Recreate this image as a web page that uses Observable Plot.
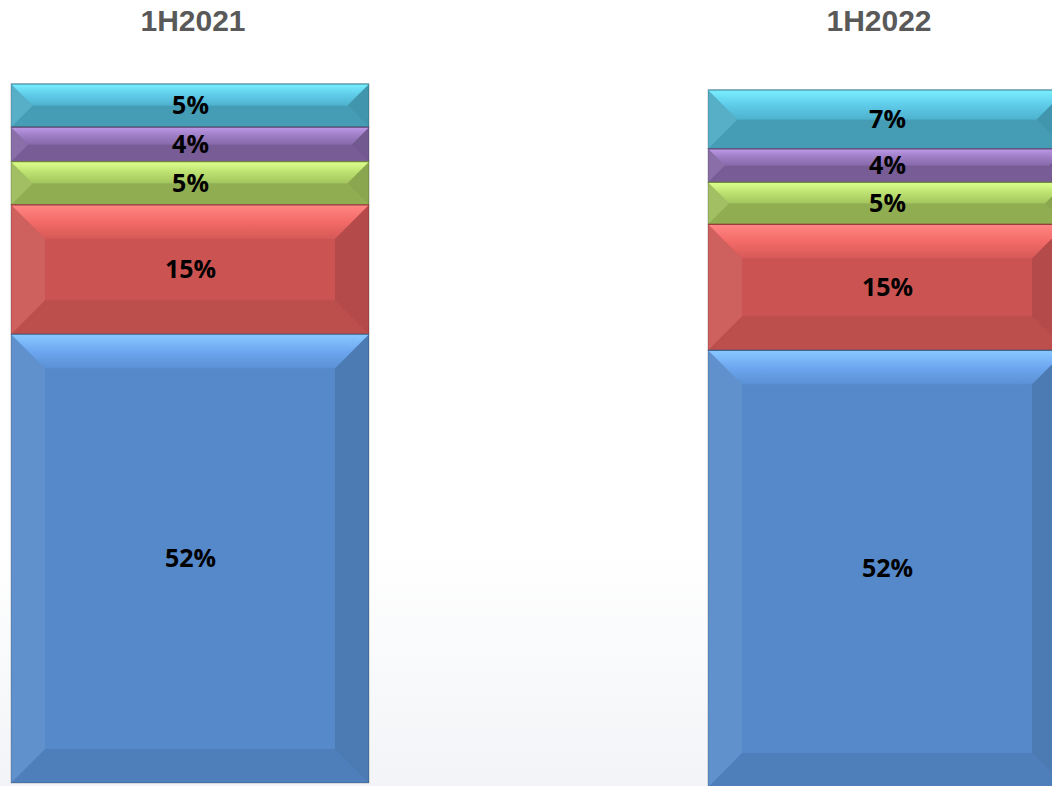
<!DOCTYPE html>
<html>
<head>
<meta charset="utf-8">
<script src="https://cdn.jsdelivr.net/npm/d3@7"></script>
<script src="https://cdn.jsdelivr.net/npm/@observablehq/plot@0.6"></script>
<style>
  html, body { margin: 0; padding: 0; }
  body {
    width: 1052px; height: 786px; overflow: hidden; position: relative;
    background: linear-gradient(to bottom, #ffffff 0%, #ffffff 70%, #f2f4f7 100%);
  }
  .title {
    position: absolute; top: 6px; width: 300px; text-align: center;
    font-family: "Liberation Sans", Arial, sans-serif; font-weight: bold;
    font-size: 30px; line-height: 30px; color: #595959;
  }
  .chart { position: absolute; width: 360px; }
  .chart svg { display: block; max-width: none !important; }
</style>
</head>
<body>
<div class="title" id="t1" style="left:43px">1H2021</div>
<div class="title" id="t2" style="left:729px">1H2022</div>
<div class="chart" id="c1" style="left:10px; top:83px"></div>
<div class="chart" id="c2" style="left:707px; top:89px"></div>
<script>
// ---- data ----
const periods = ["1H2021", "1H2022"];
const segments = ["A", "B", "C", "D", "E"];            // bottom to top
const colors = ["#5689c9", "#cb5452", "#9bbb59", "#8064a2", "#4aa9c3"];
const values2021 = [52, 15, 5, 4, 5];
const values2022 = [52, 15, 5, 4, 7];

const BEVEL = 34;
const NS = "http://www.w3.org/2000/svg";

function el(name, attrs) {
  const e = document.createElementNS(NS, name);
  for (const k in attrs) e.setAttribute(k, attrs[k]);
  return e;
}

// custom bevel overlay mark, positioned through Plot's own y and color scales
function bevel(rows, id) {
  return (index, scales, values, dims) => {
    const y = scales.y, color = scales.color;
    const x0 = dims.marginLeft, x1 = dims.width - dims.marginRight;
    const g = el("g", {});
    const defs = el("defs", {});
    g.appendChild(defs);
    let acc = 0;
    rows.forEach((d, i) => {
      const base = d3.rgb(color(d.segment));
      const hi = d3.interpolateRgb(base.brighter(0.95), "#ffffff")(0.12);
      const mid = d3.interpolateRgb(base.brighter(0.5), "#ffffff")(0.04);
      const gid = `${id}-top-${i}`;
      const grad = el("linearGradient", {id: gid, x1: 0, y1: 0, x2: 0, y2: 1});
      grad.appendChild(el("stop", {offset: "0", "stop-color": hi}));
      grad.appendChild(el("stop", {offset: "0.5", "stop-color": mid}));
      grad.appendChild(el("stop", {offset: "1", "stop-color": base.brighter(0.15).formatHex()}));
      defs.appendChild(grad);

      const yb = y(acc), yt = y(acc + d.value);
      acc += d.value;
      const h = yb - yt, w = x1 - x0;
      const b = Math.min(BEVEL, h / 2, w / 2);
      const poly = (pts, fill, op) => g.appendChild(el("polygon", {
        points: pts.map(p => p.join(",")).join(" "), fill, "fill-opacity": op
      }));
      poly([[x0, yb], [x1, yb], [x1 - b, yb - b], [x0 + b, yb - b]], "#000", 0.07);
      poly([[x0, yt], [x0 + b, yt + b], [x0 + b, yb - b], [x0, yb]], "#fff", 0.07);
      poly([[x1, yt], [x1 - b, yt + b], [x1 - b, yb - b], [x1, yb]], "#000", 0.11);
      poly([[x0, yt], [x1, yt], [x1 - b, yt + b], [x0 + b, yt + b]], `url(#${gid})`, 1);
      // thin separator line at the top of each segment
      g.appendChild(el("line", {x1: x0, x2: x1, y1: yt, y2: yt, stroke: base.darker(0.8).formatHex(), "stroke-width": 1.2}));
    });
    return g;
  };
}

function chart(values, period, id, width, height) {
  const rows = segments.map((s, i) => ({period, segment: s, value: values[i]}));
  const total = d3.sum(values);
  return Plot.plot({
    width, height,
    marginTop: 1, marginBottom: 1, marginLeft: 1, marginRight: 1,
    style: {background: "transparent", overflow: "visible", maxWidth: "none"},
    x: {axis: null},
    y: {domain: [0, total], axis: null},
    color: {domain: segments, range: colors},
    marks: [
      Plot.barY(rows, {y: "value", fill: "segment", stroke: "#000", strokeOpacity: 0.22, strokeWidth: 1}),
      bevel(rows, id),
      Plot.text(rows, Plot.stackY({
        y: "value",
        text: d => d.value + "%",
        fill: "#000",
        fontSize: 25,
        fontWeight: "bold",
        fontFamily: "'Open Sans', sans-serif"
      }))
    ]
  });
}

document.getElementById("c1").appendChild(chart(values2021, periods[0], "b1", 360, 701));
document.getElementById("c2").appendChild(chart(values2022, periods[1], "b2", 360, 699));
</script>
</body>
</html>
